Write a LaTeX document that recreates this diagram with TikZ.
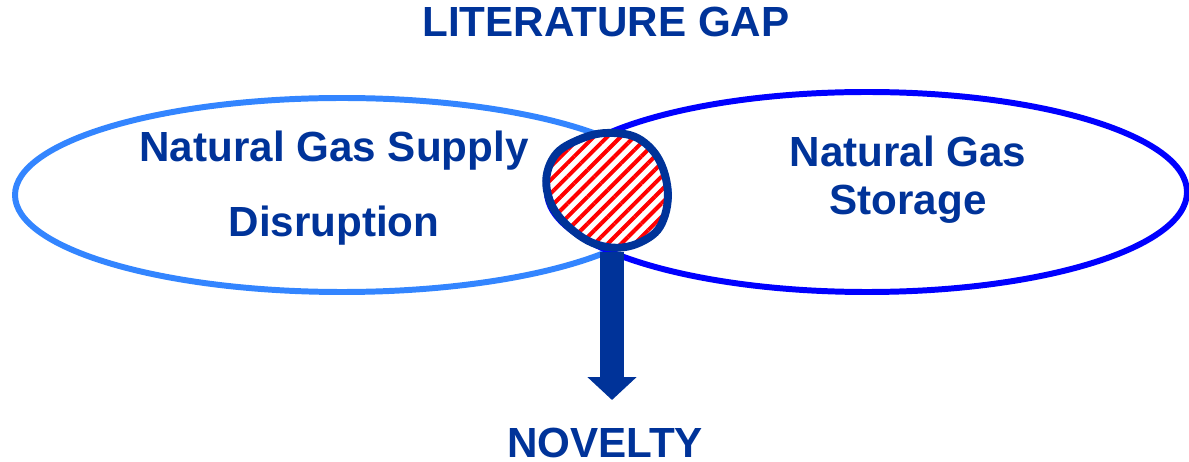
\documentclass[tikz,border=0pt]{standalone}
\usepackage{fontspec}
\setmainfont{Liberation Sans}
\usetikzlibrary{arrows.meta,patterns.meta,positioning}
\definecolor{navy}{HTML}{003399}
\definecolor{lightblue}{HTML}{3385FF}
\definecolor{deepblue}{HTML}{0000FF}
\newcommand{\myfont}{\fontsize{24}{28}\selectfont\bfseries}
\tikzset{
    textsty/.style={text=navy,font=\myfont,inner sep=0pt,anchor=base},
    leftsty/.style={draw=lightblue,line width=3.4pt},
    rightsty/.style={draw=deepblue,line width=3.4pt},
    gapsty/.style={draw=navy,line width=4.5pt,preaction={fill=white},
      pattern={Lines[angle=45,distance=0.19cm,line width=0.08cm]},pattern color=red},
    novsty/.style={draw=navy,line width=0.48cm,
      -{Triangle[width=0.96cm,length=0.46cm]}},
}

\begin{document}
\begin{tikzpicture}[x=0.02cm,y=-0.02cm]
\useasboundingbox (0,0) rectangle (1189,462);

% the two fields
\draw[leftsty]  (342,195) ellipse [x radius=327, y radius=97];
\draw[rightsty] (867,192) ellipse [x radius=320, y radius=100];

% the gap between them
\draw[gapsty] plot[smooth cycle,tension=0.7] coordinates
  {(613,133) (645,143) (665,175) (665,215) (645,240)
   (607,247) (570,228) (548,195) (552,160) (578,140)};

% labels
\node[textsty] (title)    at (606,37)  {LITERATURE GAP};
\node[textsty] (supply)   at (334,162) {Natural Gas Supply};
\node[textsty] (disrupt)  at (334,237) {Disruption};
\node[textsty] (natgas)   at (908,167) {Natural Gas};
\node[textsty] (storage)  at (908,215) {Storage};
\node[textsty] (novelty)  at (605,457) {NOVELTY};

% arrow down to the novelty
\coordinate (gapbot) at (612,252);
\coordinate (novtip) at (612,400);
\draw[novsty] (gapbot) -- (novtip);
\end{tikzpicture}
\end{document}
